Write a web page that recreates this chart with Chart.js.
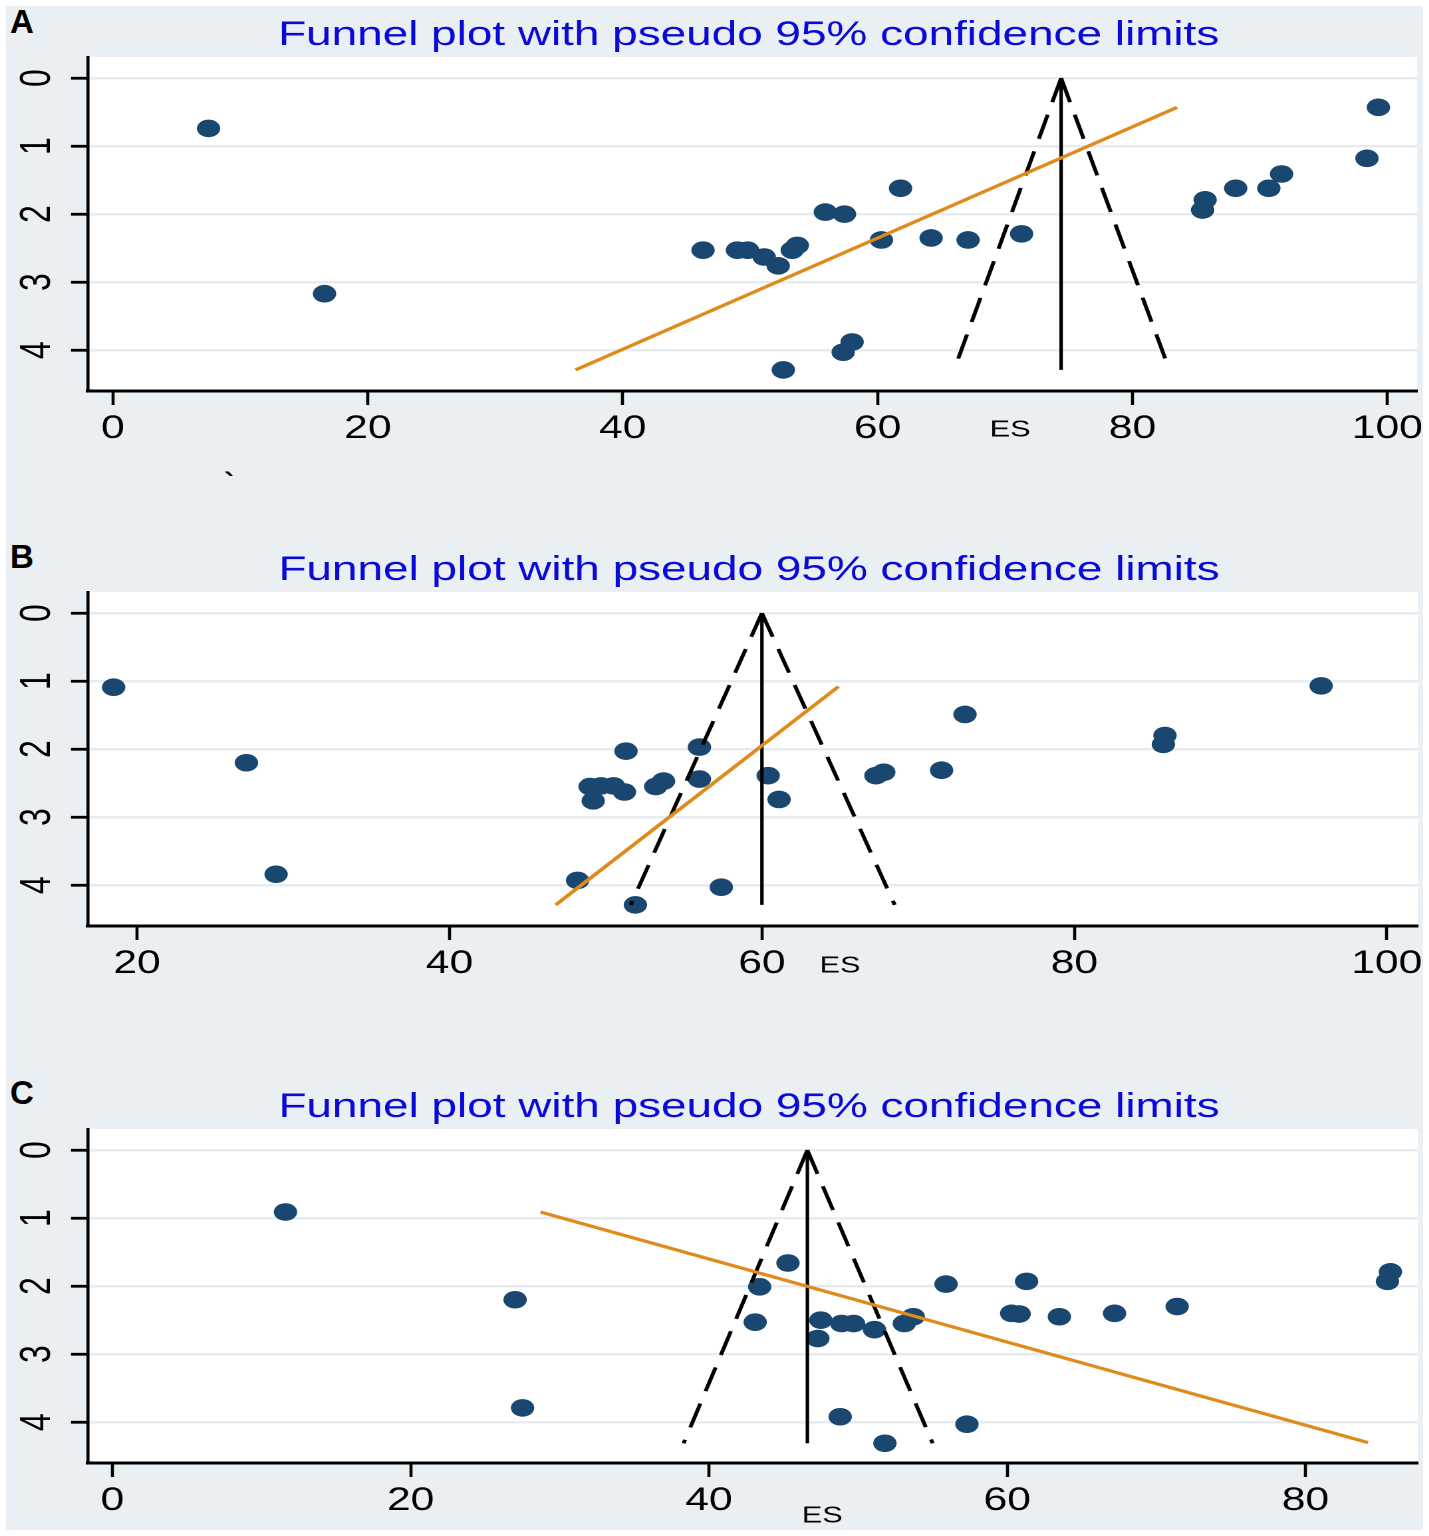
<!DOCTYPE html>
<html>
<head>
<meta charset="utf-8">
<script src="https://cdn.jsdelivr.net/npm/chart.js@4.4.1/dist/chart.umd.min.js"></script>
<style>
  html, body { margin: 0; padding: 0; background: #fff; width: 1429px; height: 1536px; overflow: hidden;
               font-family: "Liberation Sans", Arial, sans-serif; }
  #fondo { position: absolute; left: 6px; top: 6px; width: 1417px; height: 1524px; background: #e9eff2; }
  .letra { position: absolute; left: 10px; font-weight: bold; font-size: 33px; line-height: 1; color: #000; }
  /* Stata exporta la figura estirada en horizontal: se dibuja angosto y se estira */
  .panel { position: absolute; left: 0; width: 1075px; height: 462px; transform: scaleX(1.33); transform-origin: 0 0; }
  .marca { position: absolute; left: 224px; top: 468px; font-size: 30px; font-weight: bold; line-height: 1; }
</style>
</head>
<body>
<div id="fondo"></div>
<div class="letra" style="top:5px">A</div>
<div class="letra" style="top:540px">B</div>
<div class="letra" style="top:1076px">C</div>
<div class="marca">`</div>
<div class="panel" style="top:0px"><canvas id="graficoA"></canvas></div>
<div class="panel" style="top:535px"><canvas id="graficoB"></canvas></div>
<div class="panel" style="top:1072px"><canvas id="graficoC"></canvas></div>

<script>
// Datos (ES y error estandar de cada estudio)
const tituloGrafico = 'Funnel plot with pseudo 95% confidence limits';
const ticksY = [0, 1, 2, 3, 4];

// Panel A
const esA = [7.5, 16.6, 46.3, 49.0, 49.8, 51.1, 52.2, 53.3, 53.7, 55.9, 57.4, 61.8, 60.3, 64.2, 67.1, 71.3,
             52.6, 57.3, 58.0, 85.5, 85.7, 88.1, 90.7, 91.7, 98.4, 99.3];
const seA = [0.74, 3.17, 2.53, 2.53, 2.53, 2.63, 2.76, 2.53, 2.46, 1.97, 2.00, 1.62, 2.38, 2.35, 2.38, 2.29,
             4.29, 4.03, 3.88, 1.94, 1.79, 1.62, 1.62, 1.41, 1.18, 0.43];
const ticksXA = [0, 20, 40, 60, 80, 100];
const embudoXA = [66.0, 74.4, 82.9];
const embudoSeA = [4.29, 0, 4.29];
const ajusteXA = [36.3, 83.5];
const ajusteSeA = [4.29, 0.43];

// Panel B
const esB = [18.5, 27.0, 28.9, 51.3, 56.0, 49.0, 49.7, 50.5, 51.2, 49.2, 53.2, 53.7, 56.0, 60.4, 61.1,
             48.2, 51.9, 57.4, 67.3, 67.8, 71.5, 73.0, 85.7, 85.8, 95.8];
const seB = [1.09, 2.20, 3.84, 2.03, 1.97, 2.55, 2.54, 2.54, 2.63, 2.76, 2.55, 2.47, 2.44, 2.39, 2.74,
             3.93, 4.29, 4.03, 2.39, 2.34, 2.31, 1.49, 1.93, 1.80, 1.07];
const ticksXB = [20, 40, 60, 80, 100];
const embudoXB = [51.6, 60.0, 68.5];
const embudoSeB = [4.29, 0, 4.29];
const ajusteXB = [46.8, 64.9];
const ajusteSeB = [4.29, 1.08];

// Panel C
const esC = [11.6, 27.0, 27.5, 45.3, 43.4, 43.1, 47.5, 47.3, 48.9, 49.7, 51.1, 53.1, 53.7, 55.9,
             48.8, 51.8, 57.3, 60.3, 60.8, 61.3, 63.5, 67.2, 71.4, 85.5, 85.7];
const seC = [0.91, 2.20, 3.79, 1.66, 2.01, 2.53, 2.50, 2.77, 2.55, 2.55, 2.64, 2.55, 2.45, 1.97,
             3.92, 4.31, 4.03, 2.40, 2.41, 1.93, 2.45, 2.40, 2.30, 1.93, 1.79];
const ticksXC = [0, 20, 40, 60, 80];
const embudoXC = [38.3, 46.6, 55.0];
const embudoSeC = [4.31, 0, 4.31];
const ajusteXC = [28.7, 84.2];
const ajusteSeC = [0.91, 4.30];

const FUENTE = '"Liberation Sans", Arial, sans-serif';

// Plugin: fondo blanco del area, titulo, etiquetas Y giradas y la etiqueta "ES"
const decoracion = {
    id: 'decoracion',
    beforeDraw(chart) {
        const { ctx, chartArea: a } = chart;
        ctx.save();
        ctx.fillStyle = '#ffffff';
        ctx.fillRect(a.left, a.top, a.right - a.left, a.bottom - a.top);
        ctx.restore();
    },
    afterDraw(chart, args, opts) {
        const { ctx, chartArea: a, scales } = chart;
        ctx.save();
        ctx.font = '34.5px ' + FUENTE;
        ctx.fillStyle = '#0a0ad8';
        ctx.textAlign = 'center';
        ctx.textBaseline = 'alphabetic';
        ctx.fillText(tituloGrafico, (a.left + a.right) / 2 - 3, 45);

        ctx.font = '32px ' + FUENTE;
        ctx.fillStyle = '#000';
        ctx.textBaseline = 'middle';
        ticksY.forEach(v => {
            ctx.save();
            ctx.translate(28.6, scales.y.getPixelForValue(v));
            ctx.rotate(-Math.PI / 2);
            ctx.fillText(String(v), 0, 0);
            ctx.restore();
        });

        ctx.font = '23px ' + FUENTE;
        ctx.fillText('ES', scales.x.getPixelForValue(opts.esX), opts.esY);
        ctx.restore();
    }
};

function crearPanel(id, p) {
    const puntos = p.es.map((x, i) => ({ x: x, y: p.se[i] }));
    const apice = { x: p.embudoX[1], y: p.embudoSe[1] };
    const ctx = document.getElementById(id).getContext('2d');
    return new Chart(ctx, {
        type: 'scatter',
        data: {
            datasets: [
                {
                    data: [{ x: p.ajusteX[0], y: p.ajusteSe[0] }, { x: p.ajusteX[1], y: p.ajusteSe[1] }],
                    showLine: true, borderColor: '#e08a1c', borderWidth: 3.2, pointRadius: 0, order: 1
                },
                {
                    data: [apice, { x: p.embudoX[0], y: p.embudoSe[0] }],
                    showLine: true, borderColor: '#000', borderWidth: 3, borderDash: [25, 13],
                    borderCapStyle: 'butt', pointRadius: 0, order: 2
                },
                {
                    data: [apice, { x: p.embudoX[2], y: p.embudoSe[2] }],
                    showLine: true, borderColor: '#000', borderWidth: 3, borderDash: [25, 13],
                    borderCapStyle: 'butt', pointRadius: 0, order: 2
                },
                {
                    data: [apice, { x: p.embudoX[1], y: p.embudoSe[0] }],
                    showLine: true, borderColor: '#000', borderWidth: 2.6, pointRadius: 0, order: 3
                },
                {
                    data: puntos,
                    backgroundColor: '#1a476f', borderWidth: 0,
                    pointRadius: 8.8, pointHoverRadius: 8.8, order: 5
                }
            ]
        },
        options: {
            responsive: true,
            maintainAspectRatio: false,
            devicePixelRatio: 2,
            animation: false,
            events: [],
            layout: { padding: { top: 57, right: 8.83, left: 0, bottom: 0 } },
            plugins: {
                legend: { display: false },
                tooltip: { enabled: false },
                decoracion: { esX: p.esX, esY: p.esY }
            },
            scales: {
                x: {
                    type: 'linear',
                    min: p.rangoX[0],
                    max: p.rangoX[1],
                    afterBuildTicks: s => { s.ticks = p.ticksX.map(v => ({ value: v })); },
                    afterFit: s => { s.height = 71; },
                    grid: { drawOnChartArea: false, drawTicks: true, tickLength: 14, tickColor: '#000', tickWidth: 2.3 },
                    border: { display: true, color: '#000', width: 3 },
                    ticks: { color: '#000', font: { family: FUENTE, size: 32 }, padding: 5, maxRotation: 0, autoSkip: false }
                },
                y: {
                    type: 'linear',
                    reverse: true,
                    min: -0.31,
                    max: 4.6,
                    afterBuildTicks: s => { s.ticks = ticksY.map(v => ({ value: v })); },
                    afterFit: s => { s.width = 66.17; },
                    grid: { color: '#e6edf1', lineWidth: 2.5, drawTicks: true, tickLength: 12.8, tickColor: '#000', tickWidth: 2.8 },
                    border: { display: true, color: '#000', width: 2.3 },
                    ticks: { display: false }
                }
            }
        },
        plugins: [decoracion]
    });
}

crearPanel('graficoA', { es: esA, se: seA, ticksX: ticksXA, rangoX: [-1.96, 102.35],
    embudoX: embudoXA, embudoSe: embudoSeA, ajusteX: ajusteXA, ajusteSe: ajusteSeA, esX: 70.4, esY: 430 });
crearPanel('graficoB', { es: esB, se: seB, ticksX: ticksXB, rangoX: [16.86, 102.0],
    embudoX: embudoXB, embudoSe: embudoSeB, ajusteX: ajusteXB, ajusteSe: ajusteSeB, esX: 65.0, esY: 431 });
crearPanel('graficoC', { es: esC, se: seC, ticksX: ticksXC, rangoX: [-1.64, 87.55],
    embudoX: embudoXC, embudoSe: embudoSeC, ajusteX: ajusteXC, ajusteSe: ajusteSeC, esX: 47.6, esY: 444 });
</script>
</body>
</html>
